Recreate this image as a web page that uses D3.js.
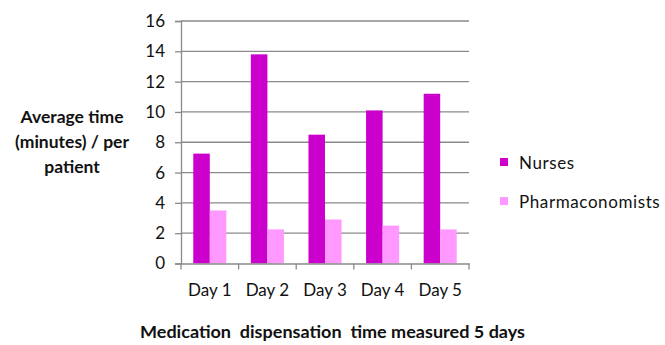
<!DOCTYPE html>
<html><head><meta charset="utf-8">
<script src="https://cdn.jsdelivr.net/npm/d3@7/dist/d3.min.js"></script>
<style>
html,body{margin:0;padding:0;background:#fff;}
text{font-family:Lato,"Open Sans",sans-serif;fill:#111;}
</style></head>
<body><svg id="c" width="665" height="345"></svg>
<script>
const categories = ["Day 1","Day 2","Day 3","Day 4","Day 5"];
const seriesNames = ["Nurses","Pharmaconomists"];
const nurses = [7.25, 13.8, 8.5, 10.1, 11.2];
const pharmaconomists = [3.5, 2.25, 2.9, 2.5, 2.25];
const yTicks = [0,2,4,6,8,10,12,14,16];
const yTitle = ["Average time","(minutes) / per","patient"];
const xTitle = "Medication  dispensation  time measured 5 days";
const colors = ["#CC00CC","#FF99FF"];

const svg = d3.select("#c");
const L = 181, R = 469, T = 21, B = 263.5;
const y = d3.scaleLinear().domain([0,16]).range([B,T]);
const x0 = d3.scaleBand().domain(categories).range([L,R]).padding(0);
const gap = x0.bandwidth()*0.213;
const x1 = d3.scaleBand().domain(seriesNames).range([gap, x0.bandwidth()-gap]).padding(0);

// gridlines
svg.append("g").selectAll("line").data(yTicks.filter(d=>d>0)).join("line")
  .attr("x1",L).attr("x2",R).attr("y1",d=>y(d)).attr("y2",d=>y(d))
  .attr("stroke","#8a8a8a").attr("stroke-width",1.3);

// y axis
const ya = svg.append("g").attr("transform",`translate(${L},0)`)
  .call(d3.axisLeft(y).tickValues(yTicks).tickSize(6).tickPadding(10));
ya.select(".domain").attr("stroke","#8a8a8a").attr("stroke-width",1.3);
ya.selectAll(".tick line").attr("stroke","#8a8a8a").attr("stroke-width",1.3);
ya.selectAll(".tick text").style("font-size","17px").attr("fill","#111").style("font-family","Lato");

// bars
const data = categories.map((c,i)=>({c, vals:[nurses[i], pharmaconomists[i]]}));
svg.append("g").selectAll("g").data(data).join("g")
  .attr("transform",d=>`translate(${x0(d.c)},0)`)
  .selectAll("rect").data(d=>d.vals.map((v,j)=>({s:seriesNames[j],v,j}))).join("rect")
  .attr("x",d=>x1(d.s)).attr("width",x1.bandwidth())
  .attr("y",d=>y(d.v)).attr("height",d=>y(0)-y(d.v))
  .attr("fill",d=>colors[d.j]);

// x axis
const xa = svg.append("g").attr("transform",`translate(0,${B})`)
  .call(d3.axisBottom(x0).tickSize(0).tickPadding(20));
xa.select(".domain").attr("stroke","#8a8a8a").attr("stroke-width",1.3);
xa.selectAll(".tick text").style("font-size","17px").attr("fill","#111").style("font-family","Lato");
svg.append("g").selectAll("line").data(d3.range(categories.length+1)).join("line")
  .attr("x1",i=>L+i*x0.step()).attr("x2",i=>L+i*x0.step())
  .attr("y1",B).attr("y2",B+6).attr("stroke","#8a8a8a").attr("stroke-width",1.3);

// y title
svg.append("g").selectAll("text").data(yTitle).join("text")
  .attr("x",72).attr("y",(d,i)=>123+i*25).attr("text-anchor","middle")
  .style("font-size","17.5px").style("font-weight","bold").text(d=>d);

// x title
svg.append("text").attr("x",140).attr("y",338)
  .attr("textLength",385).attr("lengthAdjust","spacingAndGlyphs")
  .style("white-space","pre")
  .style("font-size","17px").style("font-weight","bold").text(xTitle);

// legend
const lg = svg.append("g").selectAll("g").data(seriesNames).join("g")
  .attr("transform",(d,i)=>`translate(500,${158+i*39})`);
lg.append("rect").attr("width",8).attr("height",8).attr("fill",(d,i)=>colors[i]);
lg.append("text").attr("x",19).attr("y",11).style("font-size","17px")
  .style("letter-spacing","0.6px").text(d=>d);
</script></body></html>
